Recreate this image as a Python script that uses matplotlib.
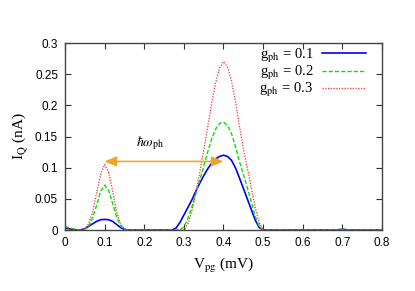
import numpy as np
import matplotlib
matplotlib.use("Agg")
import matplotlib.pyplot as plt

# Sample positions (mV) and currents (nA)
v_pg = np.round(np.arange(0, 0.801, 0.01), 2)

zeros_tail = [0.0] * 19 + [0.0005, 0.001, 0.0005] + [0.0] * 9  # 0.50 .. 0.80

g01 = ([0.003, 0.002, 0.001, 0.0, 0.0005, 0.002, 0.006, 0.010, 0.014, 0.0165,
        0.017, 0.0165, 0.014, 0.009, 0.004, 0.001]
       + [0.0] * 12
       + [0.003, 0.012, 0.024, 0.036, 0.048, 0.062, 0.075, 0.087, 0.098, 0.107,
          0.114, 0.118, 0.120, 0.118, 0.112, 0.100, 0.084, 0.067, 0.050, 0.033,
          0.016, 0.004]
       + zeros_tail)

g02 = ([0.005, 0.004, 0.002, 0.0005, 0.0, 0.001, 0.006, 0.020, 0.040, 0.062,
        0.072, 0.064, 0.043, 0.021, 0.007, 0.001]
       + [0.0] * 14
       + [0.005, 0.018, 0.036, 0.058, 0.080, 0.102, 0.125, 0.146, 0.162, 0.171,
          0.173, 0.168, 0.155, 0.135, 0.110, 0.090, 0.068, 0.045, 0.022, 0.006]
       + zeros_tail)

g03 = ([0.004, 0.003, 0.0015, 0.0, 0.0, 0.002, 0.010, 0.030, 0.060, 0.090,
        0.105, 0.093, 0.063, 0.030, 0.010, 0.002]
       + [0.0] * 15
       + [0.010, 0.030, 0.060, 0.092, 0.128, 0.165, 0.202, 0.236, 0.260,
          0.270, 0.262, 0.240, 0.207, 0.168, 0.130, 0.100, 0.068, 0.036, 0.012]
       + zeros_tail)

labels = [r"g$_{\rm ph}$ = 0.1", r"g$_{\rm ph}$ = 0.2", r"g$_{\rm ph}$ = 0.3"]
xticks = [0, 0.1, 0.2, 0.3, 0.4, 0.5, 0.6, 0.7, 0.8]
xticklabels = ["0", "0.1", "0.2", "0.3", "0.4", "0.5", "0.6", "0.7", "0.8"]
yticks = [0, 0.05, 0.1, 0.15, 0.2, 0.25, 0.3]
yticklabels = ["0", "0.05", "0.1", "0.15", "0.2", "0.25", "0.3"]
arrow_start, arrow_end, arrow_y = 0.1, 0.4, 0.11

plt.rcParams["mathtext.fontset"] = "stix"

fig = plt.figure(figsize=(4.15, 2.91), dpi=100)
ax = fig.add_axes([0.1566, 0.2096, 0.7639, 0.6426])

ax.plot(v_pg, g01, color="#0000ff", lw=1.2, ls="-", label=labels[0])
ax.plot(v_pg, g02, color="#00e600", lw=1.0, ls=(0, (3, 1.5)), label=labels[1])
ax.plot(v_pg, g03, color="#ff3030", lw=0.9, ls=(0, (1, 1.2)), label=labels[2])

ax.annotate("", xy=(arrow_start, arrow_y), xytext=(arrow_end, arrow_y),
            arrowprops=dict(arrowstyle="<|-|>,head_length=0.7,head_width=0.3",
                            color="#eea62a", lw=1.2, shrinkA=0, shrinkB=0))
ax.text(0.215, 0.14, r"$\hbar\omega_{\rm ph}$", ha="center", va="center",
        fontsize=10, family="Liberation Serif")

ax.set_xlim(0, 0.8)
ax.set_ylim(0, 0.3)
ax.set_xticks(xticks)
ax.set_xticklabels(xticklabels)
ax.set_yticks(yticks)
ax.set_yticklabels(yticklabels)
for lab in ax.get_xticklabels() + ax.get_yticklabels():
    lab.set_family("Liberation Sans")
    lab.set_fontsize(8.5)
ax.tick_params(direction="in", length=4, width=0.8, top=True, right=True,
               color="#333333", pad=5)
for s in ax.spines.values():
    s.set_color("#444444")
    s.set_linewidth(1.0)

ax.set_xlabel(r"V$_{\rm pg}$ (mV)", family="Liberation Serif", fontsize=11, labelpad=5)
ax.set_ylabel(r"I$_{\rm Q}$ (nA)", family="Liberation Serif", fontsize=11, labelpad=3)

leg = ax.legend(loc="upper right", bbox_to_anchor=(0.96, 1.0), frameon=False,
                prop={"family": "Liberation Serif", "size": 10.5},
                markerfirst=False, handlelength=3.0, labelspacing=-0.05,
                borderaxespad=0.0, borderpad=0.25, handletextpad=0.6)

fig.savefig("out.png", dpi=100)
